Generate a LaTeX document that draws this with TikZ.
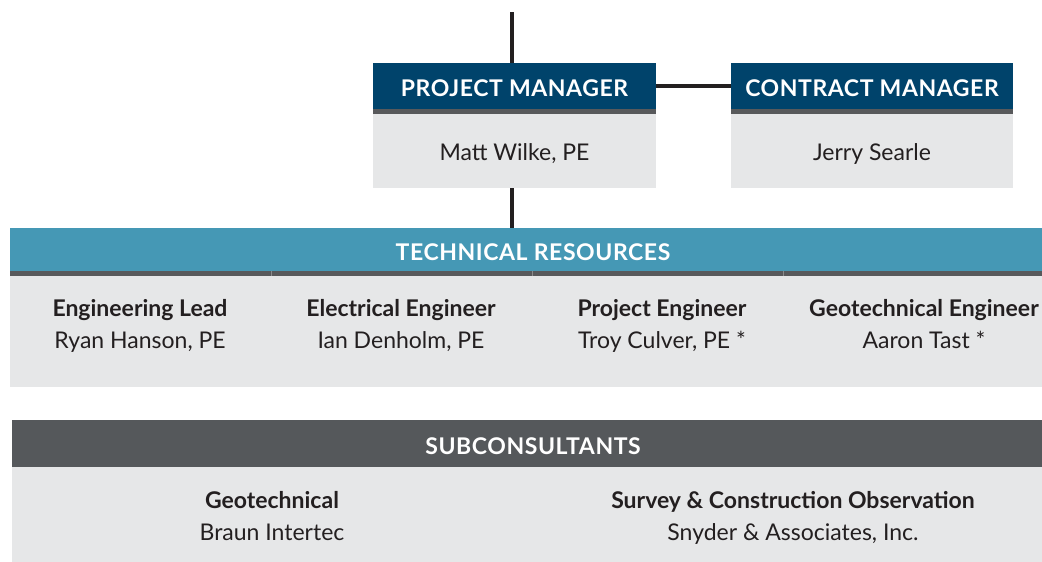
\documentclass[tikz,border=0pt]{standalone}
\usepackage{fontspec}
\setmainfont{Lato}
\usetikzlibrary{positioning}

\definecolor{mgrblue}{RGB}{0,67,107}
\definecolor{resblue}{RGB}{69,152,181}
\definecolor{subgray}{RGB}{85,88,91}
\definecolor{rulegray}{RGB}{88,89,91}
\definecolor{panelgray}{RGB}{230,231,232}
\definecolor{ink}{RGB}{35,31,32}

\newcommand\headfont{\bfseries\fontsize{23}{26}\selectfont\addfontfeatures{LetterSpace=2.5}}
\newcommand\namefont{\fontsize{23}{31.5}\selectfont}
% role in bold over the name, struts keep every entry the same height
\newcommand\role[2]{\strut\textbf{#1}\\\strut #2}

\tikzset{
  head/.style={anchor=north west, inner sep=0pt, outer sep=0pt, fill=#1, text=white, font=\headfont,
    text height=21pt, text depth=0pt},
  rulebar/.style={anchor=north west, inner sep=0pt, outer sep=0pt, fill=rulegray, minimum height=5pt},
  panel/.style={anchor=north west, inner sep=0pt, outer sep=0pt, fill=panelgray, text=ink, font=\namefont,
    text height=18pt, text depth=0pt},
  entry/.style={align=center, inner sep=0pt, text=ink, font=\namefont},
  link/.style={draw=ink, line width=4pt}
}

\begin{document}
\begin{tikzpicture}[x=1pt, y={(0pt,-1pt)}]
\useasboundingbox (0,0) rectangle (1042,562);

% managers
\node[head=mgrblue, minimum width=283pt, minimum height=46pt] (pmhead) at (373,63) {PROJECT MANAGER};
\node[rulebar, minimum width=283pt] (pmrule) at (pmhead.south west) {};
\node[panel, minimum width=283pt, minimum height=74pt] (pmbody) at (pmrule.south west) {Matt Wilke, PE};

\node[head=mgrblue, minimum width=282pt, minimum height=46pt] (cmhead) at (731,63) {CONTRACT MANAGER};
\node[rulebar, minimum width=282pt] (cmrule) at (cmhead.south west) {};
\node[panel, minimum width=282pt, minimum height=74pt] (cmbody) at (cmrule.south west) {Jerry Searle};

% technical resources
\node[head=resblue, minimum width=1046pt, minimum height=43pt] (reshead) at (10,228) {TECHNICAL RESOURCES};
\node[rulebar, minimum width=1046pt] (resrule) at (reshead.south west) {};
\node[panel, minimum width=1046pt, minimum height=111pt] (resbody) at (resrule.south west) {};
\foreach \x in {271,532,783}
  \draw[white!30!rulegray, line width=0.8pt] (\x,271) -- (\x,276);

\node[entry] (englead) at (140,326) {\role{Engineering Lead}{Ryan Hanson, PE}};
\node[entry] (eleceng) at (401,326) {\role{Electrical Engineer}{Ian Denholm, PE}};
\node[entry] (projeng) at (662,326) {\role{Project Engineer}{Troy Culver, PE *}};
\node[entry] (geoeng) at (924,326) {\role{Geotechnical Engineer}{Aaron Tast *}};

% subconsultants
\node[head=subgray, minimum width=1042pt, minimum height=47pt] (subhead) at (12,420) {SUBCONSULTANTS};
\node[panel, minimum width=1042pt, minimum height=96pt] (subbody) at (subhead.south west) {};
\node[entry] (geosub) at (272,518) {\role{Geotechnical}{Braun Intertec}};
\node[entry] (survsub) at (793,518) {\role{Survey \& Construction Observation}{Snyder \& Associates, Inc.}};

% reporting lines
\coordinate (top) at (512,12);
\draw[link] (top) -- (top |- pmhead.north);
\draw[link] (pmhead.east) -- (cmhead.west);
\draw[link] (top |- pmbody.south) -- (top |- reshead.north);
\end{tikzpicture}
\end{document}
